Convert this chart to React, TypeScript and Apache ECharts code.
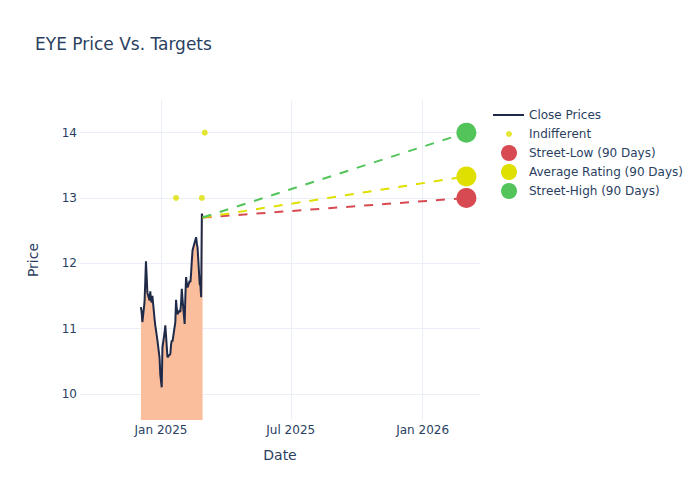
import React, { useEffect, useRef } from "react";
import * as echarts from "echarts";

const priceDates = [
  "2024-12-04", "2024-12-05", "2024-12-06", "2024-12-09", "2024-12-10", "2024-12-11", "2024-12-12", "2024-12-13",
  "2024-12-16", "2024-12-17", "2024-12-18", "2024-12-19", "2024-12-20", "2024-12-23", "2024-12-24", "2024-12-26",
  "2024-12-27", "2024-12-30", "2024-12-31", "2025-01-02", "2025-01-03", "2025-01-06", "2025-01-07", "2025-01-08",
  "2025-01-10", "2025-01-13", "2025-01-14", "2025-01-15", "2025-01-16", "2025-01-17", "2025-01-21", "2025-01-22",
  "2025-01-23", "2025-01-24", "2025-01-27", "2025-01-28", "2025-01-29", "2025-01-30", "2025-01-31", "2025-02-03",
  "2025-02-04", "2025-02-05", "2025-02-06", "2025-02-07", "2025-02-10", "2025-02-11", "2025-02-12", "2025-02-13",
  "2025-02-14", "2025-02-18", "2025-02-19", "2025-02-20", "2025-02-21", "2025-02-24", "2025-02-25", "2025-02-26",
  "2025-02-27", "2025-02-28",
];
const closePrices = [
  11.33, 11.25, 11.1, 11.4, 11.7, 12.03, 11.8, 11.55,
  11.43, 11.57, 11.45, 11.4, 11.5, 11.15, 11.05, 10.9,
  10.82, 10.55, 10.3, 10.1, 10.71, 10.94, 11.05, 10.9,
  10.56, 10.6, 10.61, 10.75, 10.82, 10.8, 11.1, 11.44,
  11.3, 11.22, 11.28, 11.25, 11.4, 11.61, 11.45, 11.07,
  11.5, 11.79, 11.68, 11.63, 11.73, 11.71, 11.85, 12.04,
  12.2, 12.36, 12.4, 12.3, 12.24, 11.68, 11.66, 11.48,
  12.76, 12.7,
];

const indifferentDates = ["2025-01-22", "2025-02-27", "2025-03-03"];
const indifferentValues = [13.0, 13.0, 14.0];

const targetDate = "2026-03-03";
const targetNames = ["Street-Low (90 Days)", "Average Rating (90 Days)", "Street-High (90 Days)"];
const targetValues = [13.0, 13.33, 14.0];
const targetColors = ["#d84a52", "#e0e000", "#52c45a"];

const xTickDates = ["2025-01-01", "2025-07-01", "2026-01-01"];
const yTickValues = [10, 11, 12, 13, 14];

const FONT = "DejaVu Sans";
const TEXT = "#2a3f5f";
const GRID = "#ebf0f8";

function ts(d: string) {
  const [y, m, day] = d.split("-").map(Number);
  return Date.UTC(y, m - 1, day);
}
const MONTHS = ["Jan", "Feb", "Mar", "Apr", "May", "Jun", "Jul", "Aug", "Sep", "Oct", "Nov", "Dec"];

export default function App() {
  const ref = useRef<HTMLDivElement>(null);
  useEffect(() => {
    if (!ref.current) return;
    const chart = echarts.init(ref.current, undefined, { renderer: "svg" });
    const lastDate = priceDates[priceDates.length - 1];
    const lastPrice = closePrices[closePrices.length - 1];
    const xTicks = xTickDates.map(ts);

    const targetSeries = targetNames.map((name, i) => ({
      name,
      type: "line",
      color: targetColors[i],
      data: [
        { value: [ts(lastDate), lastPrice], symbol: "none" },
        { value: [ts(targetDate), targetValues[i]], symbol: "circle", symbolSize: 20 },
      ],
      lineStyle: { color: targetColors[i], width: 2, type: [9, 9] },
      itemStyle: { color: targetColors[i] },
      z: 3,
    }));

    chart.setOption({
      animation: false,
      backgroundColor: "#ffffff",
      textStyle: { fontFamily: FONT },
      title: {
        text: "EYE Price Vs. Targets",
        left: 35,
        top: 35,
        padding: 0,
        textStyle: { fontFamily: FONT, fontSize: 17, fontWeight: "normal", color: TEXT },
      },
      grid: { left: 80, right: 220, top: 100, bottom: 80, containLabel: false },
      xAxis: {
        type: "value",
        min: ts("2024-09-10"),
        max: ts("2026-03-22"),
        name: "Date",
        nameLocation: "middle",
        nameGap: 28,
        nameTextStyle: { fontFamily: FONT, fontSize: 14, color: TEXT },
        axisLine: { show: false },
        axisTick: { show: false, customValues: xTicks },
        axisLabel: {
          customValues: xTicks,
          margin: 4,
          fontFamily: FONT,
          fontSize: 12,
          color: TEXT,
          formatter: (v: number) => {
            const d = new Date(v);
            return MONTHS[d.getUTCMonth()] + " " + d.getUTCFullYear();
          },
        },
        splitLine: { show: true, lineStyle: { color: GRID, width: 1 } },
      },
      yAxis: {
        type: "value",
        min: 9.6,
        max: 14.5,
        name: "Price",
        nameLocation: "middle",
        nameGap: 40,
        nameTextStyle: { fontFamily: FONT, fontSize: 14, color: TEXT },
        axisLine: { show: false },
        axisTick: { show: false, customValues: yTickValues },
        axisLabel: { customValues: yTickValues, margin: 3, fontFamily: FONT, fontSize: 12, color: TEXT },
        splitLine: { show: true, lineStyle: { color: GRID, width: 1 } },
      },
      legend: [
        {
          data: [{ name: "Close Prices", icon: "rect" }],
          left: 493,
          top: 109,
          padding: 0,
          itemWidth: 31,
          itemHeight: 2,
          itemGap: 0,
          textStyle: { fontFamily: FONT, fontSize: 12, color: TEXT, padding: [0, 0, 0, 0] },
          selectedMode: false,
        },
        {
          data: [{ name: "Indifferent", icon: "circle" }],
          left: 506,
          top: 128,
          padding: 0,
          itemWidth: 6,
          itemHeight: 6,
          itemGap: 0,
          textStyle: { fontFamily: FONT, fontSize: 12, color: TEXT, padding: [0, 0, 0, 12] },
          selectedMode: false,
        },
        {
          data: targetNames.map((n) => ({ name: n, icon: "circle" })),
          orient: "vertical",
          left: 501,
          top: 145,
          padding: 0,
          itemWidth: 16,
          itemHeight: 16,
          itemGap: 3,
          textStyle: { fontFamily: FONT, fontSize: 12, color: TEXT, padding: [0, 0, 0, 7] },
          selectedMode: false,
        },
      ],
      series: [
        {
          name: "Close Prices",
          type: "line",
          color: "#1f2a48",
          data: priceDates.map((d, i) => [ts(d), closePrices[i]]),
          symbol: "none",
          lineStyle: { color: "#1f2a48", width: 2 },
          areaStyle: { color: "#fabe9c", opacity: 1, origin: "start" },
          z: 2,
        },
        {
          name: "Indifferent",
          type: "scatter",
          color: "#dede00",
          data: indifferentDates.map((d, i) => [ts(d), indifferentValues[i]]),
          symbol: "circle",
          symbolSize: 6,
          itemStyle: { color: "#dede00" },
          z: 4,
        },
        ...targetSeries,
      ],
    });
    return () => chart.dispose();
  }, []);
  return (
    <div
      ref={ref}
      style={{ position: "fixed", left: 0, top: 0, width: 700, height: 500, background: "#fff" }}
    />
  );
}
